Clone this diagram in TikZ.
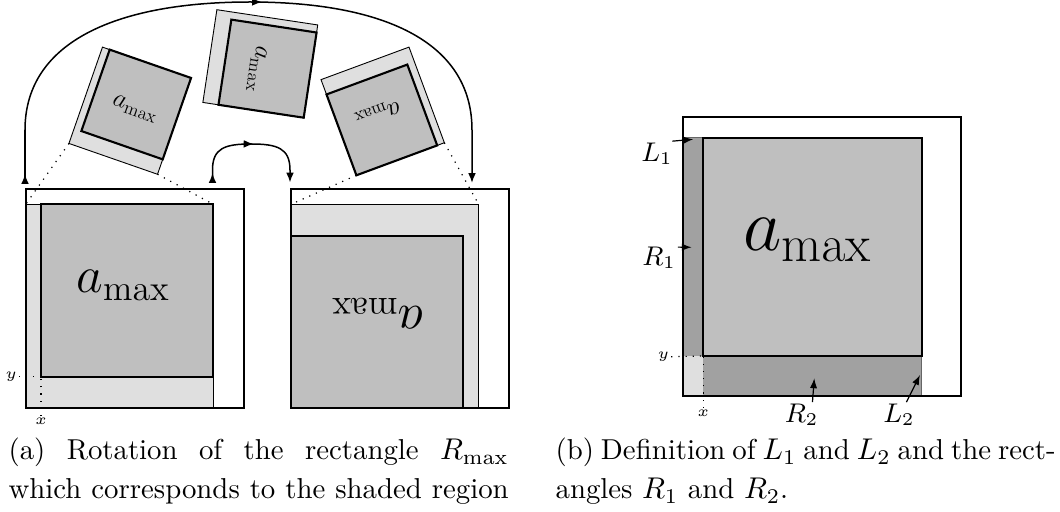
\documentclass[tikz,border=0pt]{standalone}
\usetikzlibrary{arrows.meta,decorations.markings}
\definecolor{lightg}{gray}{0.875}
\definecolor{midg}{gray}{0.75}
\definecolor{darkg}{gray}{0.63}
\begin{document}
\begin{tikzpicture}[x=0.3333pt,y=-0.3333pt,
  box/.style={line width=0.7pt},
  lightrect/.style={fill=lightg, draw=black, line width=0.3pt},
  darkrect/.style={fill=midg, draw=black, line width=0.7pt},
  guide/.style={dotted, line width=0.4pt},
  arctip/.style={line width=0.5pt,
    {Latex[reversed,length=3.3pt,width=2.6pt]}-{Latex[length=3.3pt,width=2.6pt]},
    postaction={decorate},
    decoration={markings, mark=at position 0.52 with {\arrow{Latex[length=3.3pt,width=2.6pt]}}}},
  ptr/.style={line width=0.4pt, -{Latex[length=3.3pt,width=2.4pt]}},
  lbl/.style={font=\fontsize{9.2pt}{11pt}\selectfont, inner sep=0.5pt},
  xylbl/.style={font=\tiny, inner sep=0.5pt},
  amax/.style={font=\LARGE, inner sep=0pt},
  captext/.style={anchor=base west, inner sep=0pt, font=\fontsize{9.6pt}{11.5pt}\selectfont}
]
\useasboundingbox (0,0) rectangle (1060,512);

% ---------- (a) left box ----------
\draw[lightrect] (25.7,204.3) rectangle (213.3,408.3);
\draw[darkrect] (41,204.3) rectangle (213.3,376.7);
\draw[box] (25.7,189.3) rectangle (244.3,408.3);
\node[amax] (amaxL) at (123.3,285) {$a_{\max}$};
\coordinate (LTL) at (25.7,204.3);
\coordinate (LTR) at (213.3,204.3);
\coordinate (Lcorner) at (41,376.7);
\node[xylbl] (yL) at (11,376.7) {$y$};
\node[xylbl] (xL) at (41,421.5) {$x$};
\draw[guide] (yL.east) -- (Lcorner);
\draw[guide] (xL.north) -- (Lcorner);

% ---------- (a) right box ----------
\draw[lightrect] (291,204.3) rectangle (478.6,408.3);
\draw[darkrect] (291,236) rectangle (463.3,408.3);
\draw[box] (291,189.3) rectangle (509.3,408.3);
\node[amax, rotate=180] (amaxR) at (377.5,313.3) {$a_{\max}$};
\coordinate (RTL) at (291,204.3);
\coordinate (RTR) at (478.6,204.3);

% ---------- rotated copies ----------
\begin{scope}[shift={(130,110.7)}, rotate=-19.2, scale=0.5, transform shape]
  \draw[lightrect] (-93.8,-102) rectangle (93.8,102);
  \draw[darkrect] (-78.5,-102) rectangle (93.8,70.4);
  \node[amax] (amaxA) at (8.3,-6.5) {$a_{\max}$};
  \coordinate (ABL) at (-93.8,102);
  \coordinate (ABR) at (93.8,102);
\end{scope}
\begin{scope}[shift={(260.3,63.7)}, rotate=-98.6, scale=0.5, transform shape]
  \draw[lightrect] (-93.8,-102) rectangle (93.8,102);
  \draw[darkrect] (-78.5,-102) rectangle (93.8,70.4);
  \node[amax] (amaxB) at (11.6,5.5) {$a_{\max}$};
\end{scope}
\begin{scope}[shift={(382.7,111.2)}, rotate=-159.7, scale=0.5, transform shape]
  \draw[lightrect] (-93.8,-102) rectangle (93.8,102);
  \draw[darkrect] (-78.5,-102) rectangle (93.8,70.4);
  \node[amax] (amaxC) at (11.2,-0.3) {$a_{\max}$};
  \coordinate (CTL) at (-93.8,-102);
  \coordinate (CTR) at (93.8,-102);
\end{scope}

\draw[guide] (ABL) -- (LTL);
\draw[guide] (ABR) -- (LTR);
\draw[guide] (CTR) -- (RTL);
\draw[guide] (CTL) -- (RTR);

% ---------- arcs ----------
\coordinate (bigS) at (25,184);
\coordinate (bigE) at (472,183);
\draw[arctip] (bigS) -- (25,130) .. controls (25,40) and (120,2) .. (250,2)
   .. controls (380,2) and (472,40) .. (472,130) -- (bigE);
\coordinate (smS) at (212.5,183);
\coordinate (smE) at (290,182.5);
\draw[arctip] (smS) -- (212.5,170) .. controls (212.5,148) and (225,144) .. (251,144)
   .. controls (277,144) and (290,148) .. (290,170) -- (smE);

% ---------- (b) ----------
\draw[fill=darkg, draw=black!60, line width=0.3pt] (683.3,137.7) rectangle (921.7,395.7);
\fill[lightg] (683.3,356) rectangle (703.3,395.7);
\draw[darkrect] (703.3,137.7) rectangle (921.7,356);
\draw[box] (683.3,117.3) rectangle (961,395.7);
\node[font=\fontsize{24}{28}\selectfont, inner sep=0pt] (amaxD) at (807.5,240) {$a_{\max}$};
\coordinate (Bcorner) at (703.3,356);
\node[xylbl] (yB) at (663.3,356.7) {$y$};
\node[xylbl] (xB) at (703.3,413.3) {$x$};
\draw[guide] (yB.east) -- (Bcorner);
\draw[guide] (xB.north) -- (Bcorner);
\node[lbl] (L1) at (657,154) {$L_1$};
\node[lbl] (R1) at (659,258) {$R_1$};
\node[lbl] (R2) at (801.7,415) {$R_2$};
\node[lbl] (L2) at (899,415) {$L_2$};
\coordinate (L1t) at (693.3,139.3);
\coordinate (R1t) at (691.7,247.3);
\coordinate (R2t) at (814.3,378.3);
\coordinate (L2t) at (920,375);
\draw[ptr] (L1.40) -- (L1t);
\draw[ptr] (R1.30) -- (R1t);
\draw[ptr] (R2.50) -- (R2t);
\draw[ptr] (L2.60) -- (L2t);

% ---------- captions ----------
\node[captext] (capA1) at (8,460) {\makebox[166.7pt][s]{(a) Rotation of the rectangle $R_{\max}$}};
\node[captext] (capA2) at (8,499) {\makebox[166.7pt][s]{which corresponds to the shaded region}};
\node[captext] (capB1) at (555,460) {\makebox[166.7pt][s]{(b) Definition of $L_1$ and $L_2$ and the rect-}};
\node[captext] (capB2) at (555,499) {angles $R_1$ and $R_2$.};
\end{tikzpicture}
\end{document}
